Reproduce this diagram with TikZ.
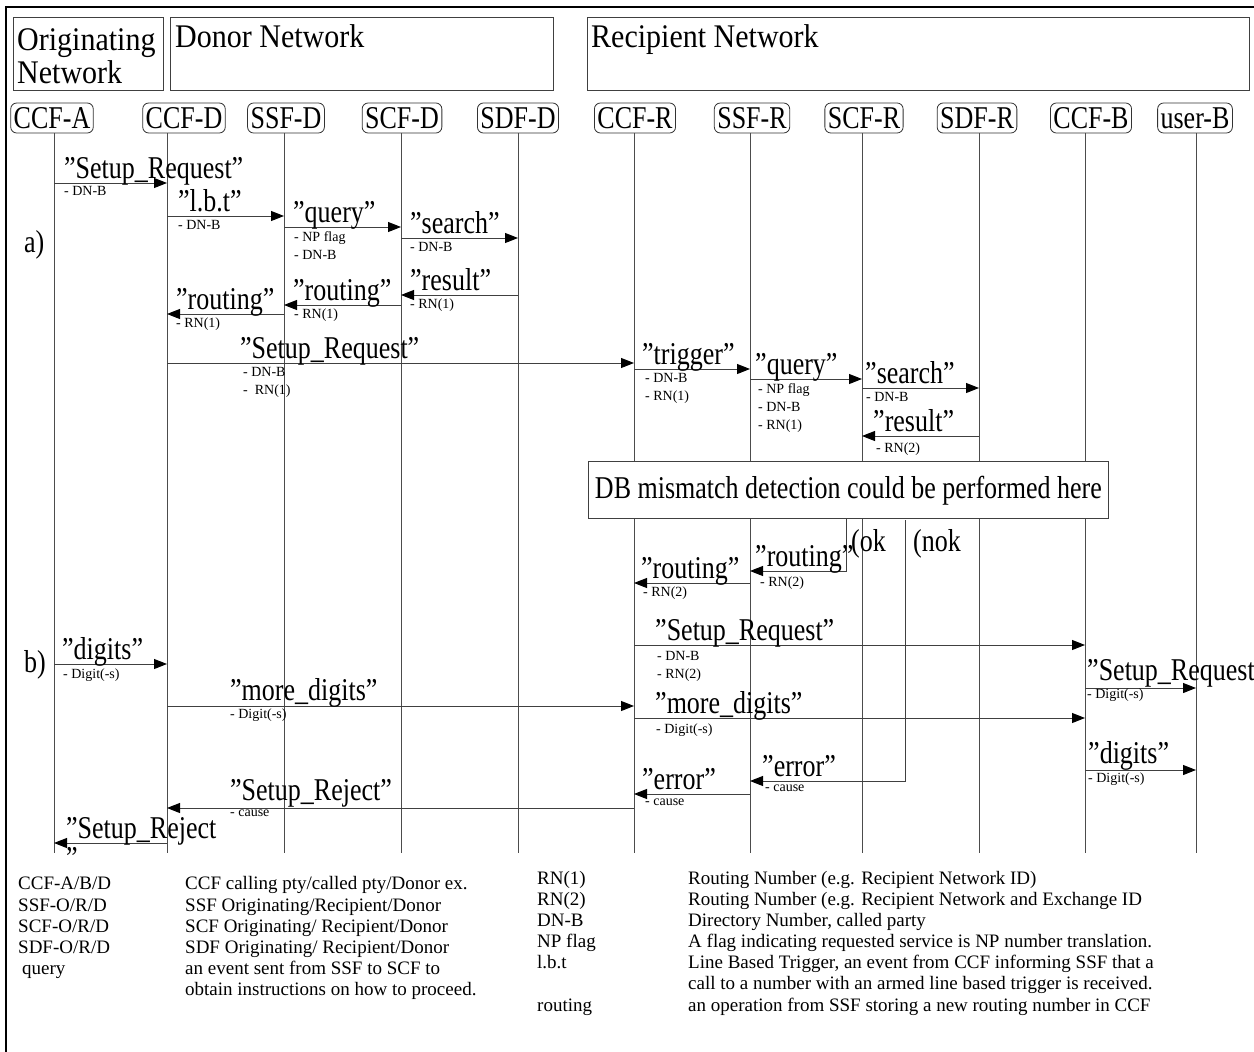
\documentclass[tikz,border=0pt]{standalone}
\usepackage{graphicx}
\usepackage{fontspec}
\setmainfont{Liberation Serif}
\usetikzlibrary{arrows.meta,calc}
\newcommand{\vst}[1]{\scalebox{1}[1.22]{#1}}
\newcommand{\vsh}[1]{\scalebox{1}[1.1]{#1}}
\begin{document}
\begin{tikzpicture}[x=1pt,y=-1pt,
  hdr/.style={draw=black!75, line width=0.8pt, inner sep=0pt, anchor=north west},
  head/.style={draw=black!80, rounded corners=6pt, line width=0.8pt, minimum height=30pt, inner xsep=3pt, inner ysep=0pt, font=\fontsize{26}{26}\selectfont},
  life/.style={draw=black!70, line width=0.8pt},
  msg/.style={draw=black!75, line width=1pt, -{Triangle[length=13pt,width=10pt,color=black]}},
  lab/.style={anchor=base west, inner sep=0pt, font=\fontsize{26}{26}\selectfont},
  big/.style={anchor=base west, inner sep=0pt, font=\fontsize{30}{31}\selectfont},
  sub/.style={anchor=north west, inner sep=0pt, font=\fontsize{14}{18}\selectfont, align=left},
  leg/.style={anchor=base west, inner sep=0pt, font=\fontsize{19}{21}\selectfont},
]
\useasboundingbox (0,0) rectangle (1254,1052);
\fill[white] (0,0) rectangle (1254,1052);
% outer frame (left and top)
\draw[line width=2.5pt] (6,1052) -- (6,7) -- (1254,7);

% network header boxes
\node[hdr, minimum width=150pt, minimum height=73pt] (orig) at (13,17) {};
\node[hdr, minimum width=383pt, minimum height=73pt] (donor) at (170,17) {};
\node[hdr, minimum width=662pt, minimum height=73pt] (recip) at (587,17) {};
\node[big] (origT1) at (17,50) {\vsh{Originating}};
\node[big] (origT2) at (17,83) {\vsh{Network}};
\node[big] (donorT) at (175,47) {\vsh{Donor Network}};
\node[big] (recipT) at (591,47) {\vsh{Recipient Network}};

% lifeline heads
\node[head] (hA)  at (52,118)  {\vst{CCF-A}};
\node[head] (hD)  at (184,118) {\vst{CCF-D}};
\node[head] (hSD) at (286,118) {\vst{SSF-D}};
\node[head] (hCD) at (402,118) {\vst{SCF-D}};
\node[head] (hDD) at (518,118) {\vst{SDF-D}};
\node[head] (hR)  at (635,118) {\vst{CCF-R}};
\node[head] (hSR) at (752,118) {\vst{SSF-R}};
\node[head] (hCR) at (864,118) {\vst{SCF-R}};
\node[head] (hDR) at (977,118) {\vst{SDF-R}};
\node[head] (hB)  at (1091,118) {\vst{CCF-B}};
\node[head] (hU)  at (1195,118) {\vst{user-B}};

% lifeline ends
\coordinate (xA)  at (54,853);
\coordinate (xD)  at (167,853);
\coordinate (xSD) at (284,853);
\coordinate (xCD) at (401,853);
\coordinate (xDD) at (518,853);
\coordinate (xR)  at (634,853);
\coordinate (xSR) at (750,853);
\coordinate (xCR) at (862,853);
\coordinate (xDR) at (979,853);
\coordinate (xB)  at (1085,853);
\coordinate (xU)  at (1196,853);
\foreach \h/\x in {hA/xA,hD/xD,hSD/xSD,hCD/xCD,hDD/xDD,hR/xR,hSR/xSR,hCR/xCR,hDR/xDR,hB/xB,hU/xU}
  \draw[life] (\h.south -| \x) -- (\x);

% phase labels
\node[lab] (pa) at (24,252) {\vst{a)}};
\node[lab] (pb) at (24,672) {\vst{b)}};

% ---- messages a)
\draw[msg] (xA |- 0,183) -- (xD |- 0,183);
\node[lab] (l1) at (64,178) {\vst{”Setup\_Request”}};
\node[sub] (s1) at (64,186) {- DN-B};

\draw[msg] (xD |- 0,216) -- (xSD |- 0,216);
\node[lab] (l2) at (178,211) {\vst{”l.b.t”}};
\node[sub] (s2) at (178,220) {- DN-B};

\draw[msg] (xSD |- 0,227) -- (xCD |- 0,227);
\node[lab] (l3) at (293,222) {\vst{”query”}};
\node[sub] (s3) at (294,231) {- NP flag\\- DN-B};

\draw[msg] (xCD |- 0,238) -- (xDD |- 0,238);
\node[lab] (l4) at (410,233) {\vst{”search”}};
\node[sub] (s4) at (410,242) {- DN-B};

\draw[msg] (xDD |- 0,295) -- (xCD |- 0,295);
\node[lab] (l5) at (410,290) {\vst{”result”}};
\node[sub] (s5) at (410,299) {- RN(1)};

\draw[msg] (xCD |- 0,305) -- (xSD |- 0,305);
\node[lab] (l6) at (293,300) {\vst{”routing”}};
\node[sub] (s6) at (294,309) {- RN(1)};

\draw[msg] (xSD |- 0,314) -- (xD |- 0,314);
\node[lab] (l7) at (176,309) {\vst{”routing”}};
\node[sub] (s7) at (176,318) {- RN(1)};

\draw[msg] (xD |- 0,363) -- (xR |- 0,363);
\node[lab] (l8) at (240,358) {\vst{”Setup\_Request”}};
\node[sub] (s8) at (243,367) {- DN-B\\-\ \ RN(1)};

\draw[msg] (xR |- 0,369) -- (xSR |- 0,369);
\node[lab] (l9) at (642,364) {\vst{”trigger”}};
\node[sub] (s9) at (645,373) {- DN-B\\- RN(1)};

\draw[msg] (xSR |- 0,379) -- (xCR |- 0,379);
\node[lab] (l10) at (755,374) {\vst{”query”}};
\node[sub] (s10) at (758,383) {- NP flag\\- DN-B\\- RN(1)};

\draw[msg] (xCR |- 0,388) -- (xDR |- 0,388);
\node[lab] (l11) at (865,383) {\vst{”search”}};
\node[sub] (s11) at (866,392) {- DN-B};

\draw[msg] (xDR |- 0,436) -- (xCR |- 0,436);
\node[lab] (l12) at (873,431) {\vst{”result”}};
\node[sub] (s12) at (876,443) {- RN(2)};

% DB mismatch box
\node[draw=black!75, line width=0.8pt, fill=white, minimum width=520pt, minimum height=57pt, anchor=north west, inner sep=0pt] (db) at (588,461) {};
\node[font=\fontsize{26}{26}\selectfont, inner sep=0pt, anchor=base] (dbT) at ($(db.center)+(0,9)$) {\vst{DB mismatch detection could be performed here}};

% ok / nok branches
\coordinate (okTop) at (846,518);
\coordinate (nokTop) at (905,520);
\node[lab] (okT) at (851,551) {\vst{(ok}};
\node[lab] (nokT) at (913,551) {\vst{(nok}};

\draw[msg] (okTop) |- (xSR |- 0,571);
\node[lab] (l13) at (755,566) {\vst{”routing”}};
\node[sub] (s13) at (760,577) {- RN(2)};

\draw[msg] (xSR |- 0,583) -- (xR |- 0,583);
\node[lab] (l14) at (641,578) {\vst{”routing”}};
\node[sub] (s14) at (643,587) {- RN(2)};

\draw[msg] (xR |- 0,645) -- (xB |- 0,645);
\node[lab] (l15) at (655,640) {\vst{”Setup\_Request”}};
\node[sub] (s15) at (657,651) {- DN-B\\- RN(2)};

\draw[msg] (xB |- 0,688) -- (xU |- 0,688);
\node[lab] (l16) at (1087,680) {\vst{”Setup\_Request}};
\node[sub] (s16) at (1087,689) {- Digit(-s)};

% ---- messages b)
\draw[msg] (xA |- 0,664) -- (xD |- 0,664);
\node[lab] (l17) at (62,659) {\vst{”digits”}};
\node[sub] (s17) at (63,669) {- Digit(-s)};

\draw[msg] (xD |- 0,706) -- (xR |- 0,706);
\node[lab] (l18) at (230,700) {\vst{”more\_digits”}};
\node[sub] (s18) at (230,709) {- Digit(-s)};

\draw[msg] (xR |- 0,718) -- (xB |- 0,718);
\node[lab] (l19) at (655,713) {\vst{”more\_digits”}};
\node[sub] (s19) at (656,724) {- Digit(-s)};

\draw[msg] (xB |- 0,770) -- (xU |- 0,770);
\node[lab] (l20) at (1088,763) {\vst{”digits”}};
\node[sub] (s20) at (1088,773) {- Digit(-s)};

\draw[msg] (nokTop) |- (xSR |- 0,781);
\node[lab] (l21) at (762,776) {\vst{”error”}};
\node[sub] (s21) at (765,785) {- cause};

\draw[msg] (xSR |- 0,794) -- (xR |- 0,794);
\node[lab] (l22) at (642,789) {\vst{”error”}};
\node[sub] (s22) at (645,799) {- cause};

\draw[msg] (xR |- 0,808) -- (xD |- 0,808);
\node[lab] (l23) at (230,800) {\vst{”Setup\_Reject”}};
\node[sub] (s23) at (230,810) {- cause};

\draw[msg] (xD |- 0,843) -- (xA |- 0,843);
\node[lab] (l24) at (66,838) {\vst{”Setup\_Reject}};
\node[lab] (l24b) at (66,868) {\vst{”}};

% ---- legend
\node[leg] (g1a) at (18,889) {CCF-A/B/D};
\node[leg] (g1b) at (18,911) {SSF-O/R/D};
\node[leg] (g1c) at (18,932) {SCF-O/R/D};
\node[leg] (g1d) at (18,953) {SDF-O/R/D};
\node[leg] (g1e) at (22,974) {query};
\node[leg] (g2a) at (185,889) {CCF calling pty/called pty/Donor ex.};
\node[leg] (g2b) at (185,911) {SSF Originating/Recipient/Donor};
\node[leg] (g2c) at (185,932) {SCF Originating/ Recipient/Donor};
\node[leg] (g2d) at (185,953) {SDF Originating/ Recipient/Donor};
\node[leg] (g2e) at (185,974) {an event sent from SSF to SCF to};
\node[leg] (g2f) at (185,995) {obtain instructions on how to proceed.};
\node[leg] (g3a) at (537,884) {RN(1)};
\node[leg] (g3b) at (537,905) {RN(2)};
\node[leg] (g3c) at (537,926) {DN-B};
\node[leg] (g3d) at (537,947) {NP flag};
\node[leg] (g3e) at (537,968) {l.b.t};
\node[leg] (g3f) at (537,1011) {routing};
\node[leg] (g4a) at (688,884) {Routing Number (e.g. Recipient Network ID)};
\node[leg] (g4b) at (688,905) {Routing Number (e.g. Recipient Network and Exchange ID};
\node[leg] (g4c) at (688,926) {Directory Number, called party};
\node[leg] (g4d) at (688,947) {A flag indicating requested service is NP number translation.};
\node[leg] (g4e) at (688,968) {Line Based Trigger, an event from CCF informing SSF that a};
\node[leg] (g4f) at (688,989) {call to a number with an armed line based trigger is received.};
\node[leg] (g4g) at (688,1011) {an operation from SSF storing a new routing number in CCF};
\end{tikzpicture}
\end{document}
